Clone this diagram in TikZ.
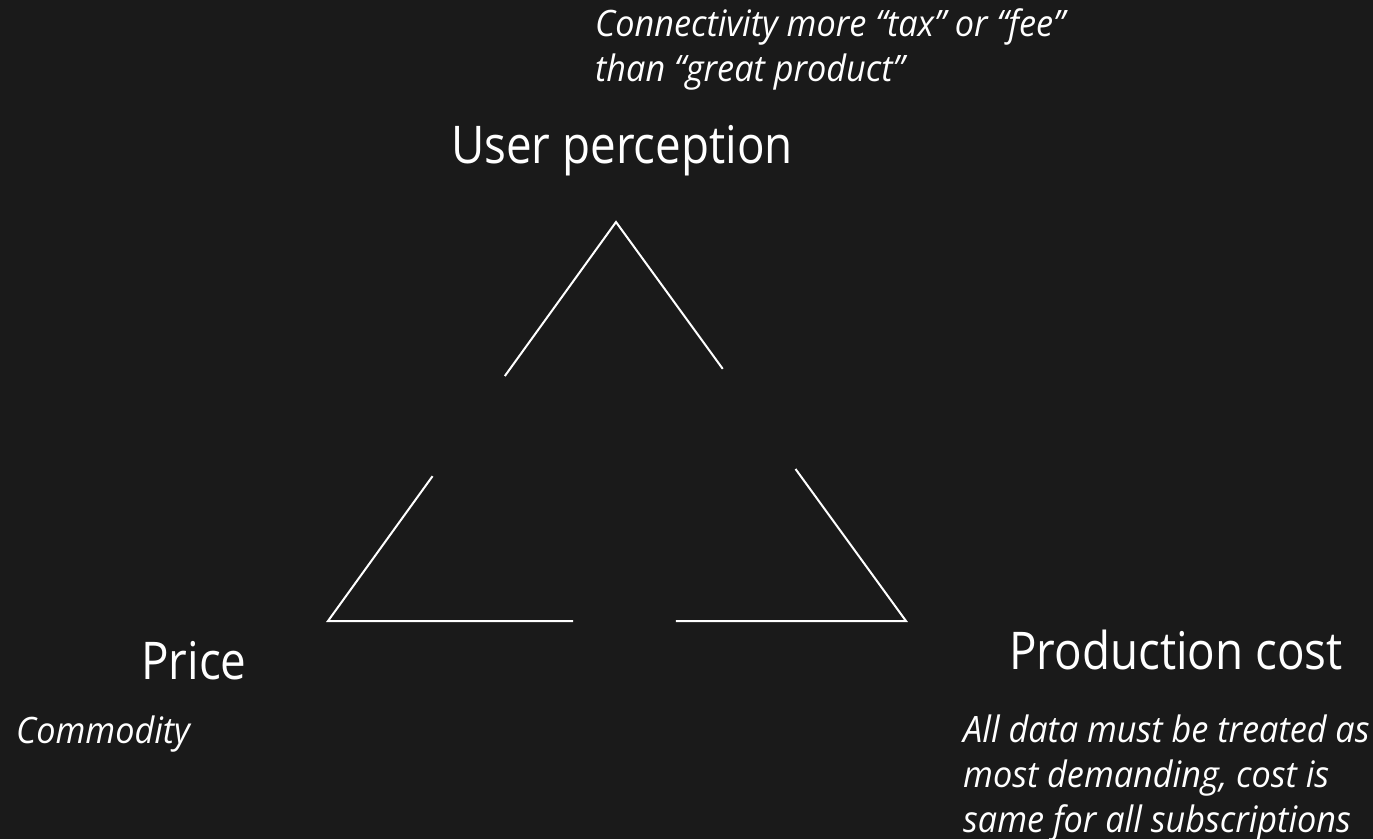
\documentclass[tikz,border=0pt]{standalone}
\usepackage{fontspec}
\setmainfont{Open Sans}[FakeStretch=0.88]
\newfontfamily\notefont{Open Sans}[Ligatures=TeX,FakeStretch=0.94]
\usetikzlibrary{calc}
\definecolor{slide}{HTML}{1A1A1A}

\begin{document}
\begin{tikzpicture}[
  x=1pt, y=-1pt,
  title/.style={text=white,inner sep=0pt,font=\fontsize{52}{60}\selectfont},
  note/.style={text=white,inner sep=0pt,align=left,font=\notefont\fontsize{36.4}{45}\selectfont\itshape},
  side/.style={draw=white,line width=2pt}
]
  \fill[slide] (0,0) rectangle (1373,839);
  \useasboundingbox (0,0) rectangle (1373,839);

  \coordinate (top) at (616,222);
  \coordinate (bl) at (328,621);
  \coordinate (br) at (906,621);

  \node[title,anchor=base] (user) at (622,163) {User perception};
  \node[title,anchor=base] (price) at (194,679) {Price};
  \node[title,anchor=base west] (cost) at (1009,669) {Production cost};

  \node[note,anchor=north west] (userNote) at (595,8) {Connectivity more ``tax'' or ``fee''\\than ``great product''};
  \node[note,anchor=base west] (priceNote) at (16,743) {Commodity};
  \node[note,anchor=north west] (costNote) at (963,715)
    {All data must be treated as\\most demanding, cost is\\same for all subscriptions};

  \draw[side] ($(top)!0.386!(bl)$) -- (top) -- ($(top)!0.368!(br)$);
  \draw[side] ($(top)!0.637!(bl)$) -- (bl) -- ($(bl)!0.424!(br)$);
  \draw[side] ($(top)!0.619!(br)$) -- (br) -- ($(bl)!0.602!(br)$);
\end{tikzpicture}
\end{document}
